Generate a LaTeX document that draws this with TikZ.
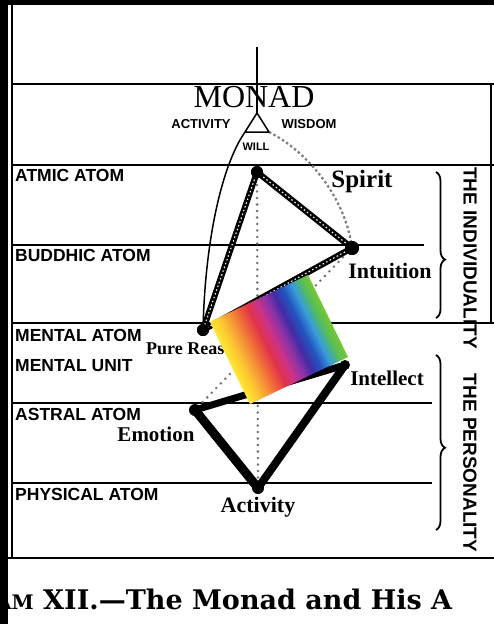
\documentclass[tikz,border=0pt]{standalone}
\usepackage{fontspec}
\setmainfont{Liberation Serif}
\newfontfamily\capsfont{Liberation Sans}
\newfontfamily\captionfont{DejaVu Serif}
\usetikzlibrary{decorations.pathreplacing,calc}
\definecolor{rba}{RGB}{255,230,45}
\definecolor{rbb}{RGB}{252,196,50}
\definecolor{rbc}{RGB}{246,150,55}
\definecolor{rbd}{RGB}{238,98,58}
\definecolor{rbe}{RGB}{225,50,75}
\definecolor{rbf}{RGB}{205,50,135}
\definecolor{rbg}{RGB}{145,50,165}
\definecolor{rbh}{RGB}{65,45,165}
\definecolor{rbi}{RGB}{35,85,190}
\definecolor{rbj}{RGB}{55,155,220}
\definecolor{rbk}{RGB}{85,190,90}
\definecolor{rbl}{RGB}{125,200,40}
\begin{document}
\begin{tikzpicture}[x=1pt,y=-1pt,
  frame/.style={line width=1.7pt},
  level/.style={font=\capsfont\bfseries\fontsize{17.5}{17.5}\selectfont, anchor=west, inner sep=0pt},
  dot/.style={circle, fill=black, inner sep=0pt, minimum size=12pt},
  rope/.style={line width=6pt, line cap=round},
  ropetex/.style={white, line width=1.1pt, dash pattern=on 1.5pt off 2.5pt},
  heavy/.style={line width=9pt, line cap=round, line join=round},
  dotline/.style={black!55, line width=2.8pt, line cap=round, dash pattern=on 0pt off 6.5pt},
  script/.style={font=\bfseries\fontsize{22}{22}\selectfont, inner sep=0pt},
  side/.style={font=\capsfont\bfseries\fontsize{19}{19}\selectfont, rotate=-90, inner sep=0pt},
  tiny/.style={font=\capsfont\bfseries\fontsize{13}{13}\selectfont, inner sep=0pt},
  sidebrace/.style={decorate, line width=1.8pt},
]
\useasboundingbox (0,0) rectangle (494,624);
\clip (0,0) rectangle (494,624);
\fill[white] (0,0) rectangle (494,624);

% horizontal level lines and frame
\coordinate (fl) at (12,5);
\coordinate (fb) at (12,558);
\draw[frame] (fl) -- (fb);
\draw[frame] (12,84) -- (494,84);
\draw[frame] (12,165) -- (494,165);
\draw[frame] (12,245) -- (424,245);
\draw[frame] (12,323) -- (494,323);
\draw[frame] (12,403) -- (432,403);
\draw[frame] (12,483) -- (432,483);
\draw[line width=2.2pt] (8,558) -- (494,558);
\draw[line width=1.4pt] (491,84) -- (491,323);

% level labels
\node[level] (atmic) at (15,175) {ATMIC ATOM};
\node[level] (buddhic) at (15,255) {BUDDHIC ATOM};
\node[level] (mentalatom) at (15,335) {MENTAL ATOM};
\node[level] (mentalunit) at (15,366) {MENTAL UNIT};
\node[level] (astral) at (15,414) {ASTRAL ATOM};
\node[level] (physical) at (15,494) {PHYSICAL ATOM};

% braces and side texts
\coordinate (ub1) at (436,172);
\coordinate (ub2) at (436,318);
\coordinate (lb1) at (436,355);
\coordinate (lb2) at (436,530);
\draw[sidebrace, decoration={brace, amplitude=9pt, aspect=0.6}] (ub1) -- (ub2);
\draw[sidebrace, decoration={brace, amplitude=9pt, aspect=0.53}] (lb1) -- (lb2);
\node[side] (individuality) at (470,258) {THE INDIVIDUALITY};
\node[side] (personality) at (470,463) {THE PERSONALITY};

% points
\node[dot] (spirit) at (257,172) {};
\node[dot, minimum size=14pt] (intuition) at (352,248) {};
\node[dot] (pure) at (203,330) {};
\node[dot, minimum size=10pt] (intellect) at (345,365) {};
\node[dot] (emotion) at (195,410) {};
\node[dot] (activity) at (258,488) {};

% monad triangle corners
\coordinate (apex) at (257,113);
\coordinate (triL) at (245,132);
\coordinate (triR) at (269,132);
\coordinate (stemtop) at (257,47);

% dotted and thin lines
\draw[dotline] (spirit.center) -- (activity.center);
\draw[dotline] (intuition.center) -- (emotion.center);
\draw[line width=1.5pt] (triL) .. controls (222,165) and (205,240) .. (pure.center);
\draw[gray, line width=2.2pt, dash pattern=on 2.5pt off 2.5pt] (triR) .. controls (305,150) and (345,195) .. (intuition.center);

% upper triangle (textured)
\draw[rope] (spirit.center) -- (intuition.center);
\draw[rope] (spirit.center) -- (pure.center);
\draw[rope] (intuition.center) -- (pure.center);
\draw[ropetex] (spirit.center) -- (intuition.center);
\draw[ropetex] (spirit.center) -- (pure.center);
\draw[ropetex] (intuition.center) -- (pure.center);

% lower triangle (heavy)
\draw[heavy] (emotion.center) -- (activity.center);
\draw[heavy, line width=8pt] (intellect.center) -- (activity.center);
\draw[heavy, line width=7pt] (emotion.center) -- (intellect.center);

% re-draw dots on top
\node[dot] at (spirit) {};
\node[dot, minimum size=14pt] at (intuition) {};
\node[dot] at (pure) {};

% labels
\node[script, font=\bfseries\fontsize{25}{25}\selectfont] (lspirit) at (362,181) {Spirit};
\node[script] (lintuition) at (390,271) {Intuition};
\node[script, font=\bfseries\fontsize{18}{18}\selectfont, anchor=west] (lpure) at (146,349) {Pure Reason};
\node[script, font=\bfseries\fontsize{21}{21}\selectfont] (lintellect) at (387,378) {Intellect};
\node[script, font=\bfseries\fontsize{21}{21}\selectfont] (lemotion) at (156,434) {Emotion};
\node[script] (lactivity) at (258,507) {Activity};

% rainbow card
\begin{scope}[shift={(210pt,-322pt)}, x={(98pt,47pt)}, y={(40pt,-82pt)}]
\foreach \ca/\cb [count=\n from 0] in {rba/rbb,rbb/rbc,rbc/rbd,rbd/rbe,rbe/rbf,rbf/rbg,rbg/rbh,rbh/rbi,rbi/rbj,rbj/rbk,rbk/rbl}{
  \foreach \k in {0,1,2,3}{
    \pgfmathsetmacro\ta{(\n*4+\k)/44}
    \pgfmathsetmacro\tb{min((\n*4+\k+1.4)/44,1)}
    \pgfmathtruncatemacro\p{100-25*\k}
    \fill[\ca!\p!\cb] (\ta,0) -- (\tb,0) -- (\tb,1) -- (\ta,1) -- cycle;
  }
}
\end{scope}

% monad
\node[font=\fontsize{32}{32}\selectfont, inner sep=0pt] (monad) at (254,97) {MONAD};
\draw[line width=1.8pt] (stemtop) -- (apex);
\draw[line width=1.5pt, fill=white, line join=round] (apex) -- (triR) -- (triL) -- cycle;
\node[tiny] (lact) at (201,124) {ACTIVITY};
\node[tiny] (lwis) at (309,124) {WISDOM};
\node[tiny, font=\capsfont\bfseries\fontsize{11}{11}\selectfont] (lwill) at (256,147) {WILL};

% caption
\node[font=\captionfont\bfseries\fontsize{27}{27}\selectfont, anchor=base west, inner sep=0pt] (caption) at (43,609)
  {\llap{{\fontsize{20}{20}\selectfont AM}\ }XII.—The Monad and His A};

% black scan edges
\fill[black] (0,0) rectangle (494,5);
\fill[black] (0,0) rectangle (8,624);
\end{tikzpicture}
\end{document}
